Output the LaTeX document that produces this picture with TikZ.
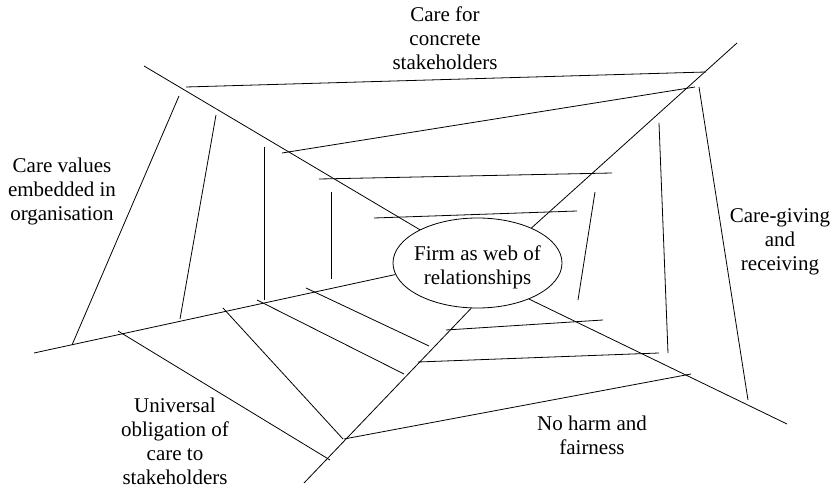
\documentclass[tikz,border=0pt]{standalone}
\usepackage{fontspec}
\setmainfont{Liberation Serif}
\usetikzlibrary{shapes.geometric}

\begin{document}
\begin{tikzpicture}[x=1pt, y=-1pt, line width=0.8pt,
    theme/.style={align=center, font=\fontsize{21}{24}\selectfont}]

    \useasboundingbox (0,0) rectangle (836,489);

    %% Web of care

    % Centre
    \node[ellipse, draw, minimum width=169, minimum height=90, inner sep=0] (firm) at (477.5,263) {};
    \node[theme] (firmtext) at (477.5,267) {Firm as web of\\relationships};

    % Spokes
    \coordinate (UL) at (144,66);
    \coordinate (UR) at (737,43);
    \coordinate (LR) at (787,424);
    \coordinate (LO) at (304,483);
    \coordinate (LL) at (34,353);
    \draw (UL) -- (firm.150);
    \draw (UR) -- (firm.33);
    \draw (LR) -- (firm.-35);
    \draw (LO) -- (firm.-98);
    \draw (LL) -- (firm.188);

    % Top sector
    \draw (186,87) -- (706,72);
    \draw (282,153) -- (695,87);
    \draw (319,179) -- (612,173);
    \draw (374,218) -- (577,211);

    % Right sector
    \draw (699,87) -- (748,400);
    \draw (659,123) -- (668,353);
    \draw (595,192) -- (578,300);

    % Lower sector
    \draw (446,330) -- (603,320);
    \draw (418,362) -- (659,353);
    \draw (344,439) -- (691,374);

    % Lower-left sector
    \draw (306,288) -- (429,346);
    \draw (257,300) -- (404,374);
    \draw (223,308) -- (343,439);
    \draw (118,331) -- (330,460);

    % Left sector
    \draw (179,96) -- (72,345);
    \draw (216,115) -- (180,319);
    \draw (264,147) -- (264,300);
    \draw (331,192) -- (331,279);

    % Themes
    \node[theme] (concrete) at (445,38.5) {Care for\\concrete\\stakeholders};
    \node[theme] (values) at (62,191) {Care values\\embedded in\\organisation};
    \node[theme] (giving) at (780,242) {Care-giving\\and\\receiving};
    \node[theme] (universal) at (175,441) {Universal\\obligation of\\care to\\stakeholders};
    \node[theme] (noharm) at (592,435) {No harm and\\fairness};

\end{tikzpicture}
\end{document}
